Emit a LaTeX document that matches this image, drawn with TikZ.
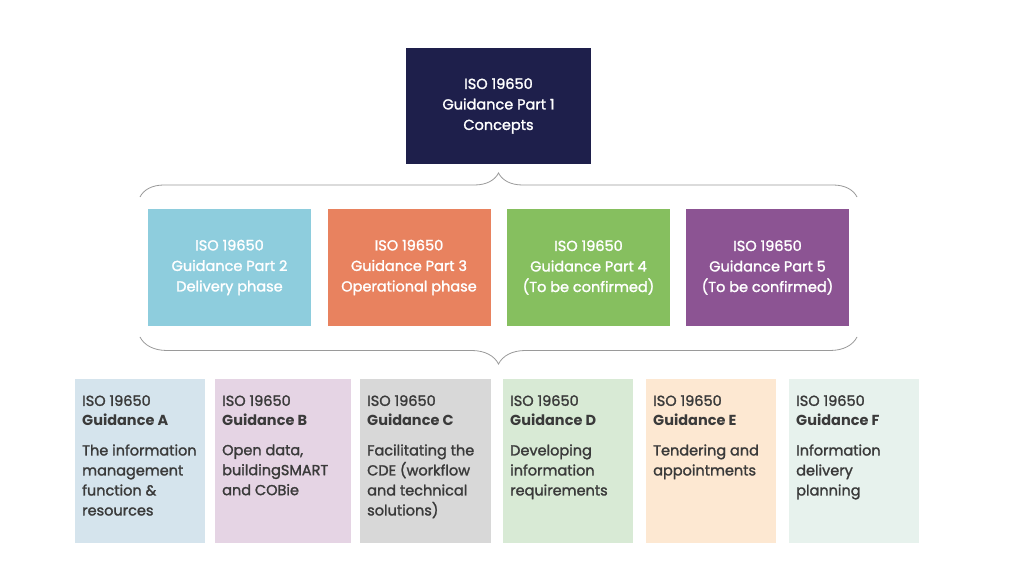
\documentclass[tikz,border=0pt]{standalone}
\usepackage{fontspec}
\setmainfont{Poppins}[UprightFeatures={FakeBold=1.6}]
\usetikzlibrary{decorations.pathreplacing}
\definecolor{navy}{HTML}{1E1F4B}
\definecolor{partblue}{HTML}{8ECDDD}
\definecolor{partorange}{HTML}{E8825F}
\definecolor{partgreen}{HTML}{86BF5F}
\definecolor{partpurple}{HTML}{8C5493}
\definecolor{guideA}{HTML}{D5E4ED}
\definecolor{guideB}{HTML}{E5D4E4}
\definecolor{guideC}{HTML}{D8D8D8}
\definecolor{guideD}{HTML}{D8EAD5}
\definecolor{guideE}{HTML}{FDE8D2}
\definecolor{guideF}{HTML}{E7F2ED}
\definecolor{guidetext}{HTML}{3A3A3A}
\definecolor{bracegray}{HTML}{9A9A9A}
\begin{document}
\begin{tikzpicture}[x=1pt,y=1pt,
  partbox/.style={minimum width=163pt,minimum height=117pt,inner sep=0pt,
    text=white,align=center,font=\fontsize{14.5}{20.5}\selectfont},
  guidebox/.style={minimum height=164pt,inner sep=0pt,anchor=north west},
  guidetxt/.style={anchor=north west,align=left,text=guidetext,inner sep=0pt,
    font=\fontsize{14.5}{20}\selectfont},
  groupbrace/.style={draw=bracegray,line width=0.8pt,decorate,
    decoration={brace,amplitude=#1}}]
\useasboundingbox (0,0) rectangle (1024,580);
\fill[white] (0,0) rectangle (1024,580);
% top
\node[partbox,fill=navy,minimum width=185pt,minimum height=116pt] (part1) at (498.5,474) {ISO 19650\\Guidance Part 1\\Concepts};
% parts
\node[partbox,fill=partblue] (part2) at (229.5,312.5) {ISO 19650\\Guidance Part 2\\Delivery phase};
\node[partbox,fill=partorange] (part3) at (409,312.5) {ISO 19650\\Guidance Part 3\\Operational phase};
\node[partbox,fill=partgreen] (part4) at (588.5,312.5) {ISO 19650\\Guidance Part 4\\(To be confirmed)};
\node[partbox,fill=partpurple] (part5) at (767.5,312.5) {ISO 19650\\Guidance Part 5\\(To be confirmed)};
% braces
\coordinate (topL) at (140,383);
\coordinate (topR) at (857,383);
\draw[groupbrace=24pt] (topL) -- (topR);
\coordinate (botL) at (140,243);
\coordinate (botR) at (857,243);
\draw[groupbrace=27pt] (botR) -- (botL);
% guidance
\foreach \g/\x/\w/\body in {
  A/75/130/{The information\\management\\function \&\\resources},
  B/215/136/{Open data,\\buildingSMART\\and COBie},
  C/360/131/{Facilitating the\\CDE (workflow\\and technical\\solutions)},
  D/503/130/{Developing\\information\\requirements},
  E/646/130/{Tendering and\\appointments},
  F/789/130/{Information\\delivery\\planning}}{
  \node[guidebox,fill=guide\g,minimum width=\w pt] (guide\g) at (\x,201) {};
  \node[guidetxt] (head\g) at ([xshift=7pt,yshift=-16pt]guide\g.north west) {ISO 19650\\\textbf{Guidance \g}};
  \node[guidetxt] at ([yshift=-18pt]head\g.south west) {\body};
}
\end{tikzpicture}
\end{document}
